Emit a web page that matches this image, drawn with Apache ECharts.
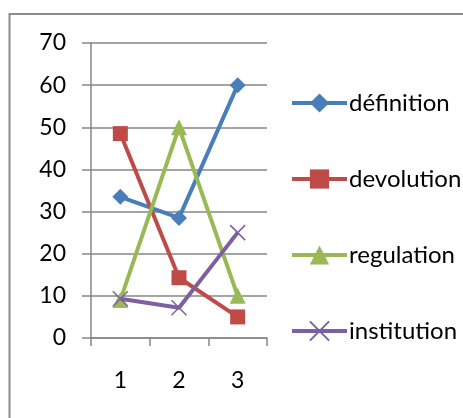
<!DOCTYPE html>
<html><head><meta charset="utf-8">
<script src="https://cdn.jsdelivr.net/npm/echarts@6/dist/echarts.min.js"></script>
<style>html,body{margin:0;padding:0;background:#fff}#c{width:463px;height:418px}</style>
</head><body><div id="c"></div>
<script>
const categories = ['1', '2', '3'];
const seriesNames = ['définition', 'devolution', 'regulation', 'institution'];
const definitionValues = [33.5, 28.5, 60];
const devolutionValues = [48.5, 14.3, 5];
const regulationValues = [9, 50, 10];
const institutionValues = [9.3, 7.2, 25];
const yTicks = { min: 0, max: 70, interval: 10 };

const colors = ['#4A7EBB', '#BE4B48', '#98B954', '#7D60A0'];
const symbols = ['diamond', 'rect', 'triangle', 'path://M0,0 L2,2 M2,0 L0,2'];
const sizes = [16, 15, 16, 15];
const values = [definitionValues, devolutionValues, regulationValues, institutionValues];

const chart = echarts.init(document.getElementById('c'), null, { renderer: 'canvas' });
const font = 'Lato, "Open Sans", sans-serif';
chart.setOption({
  animation: false,
  graphic: [{
    type: 'rect', shape: { x: 9.5, y: 14, width: 480, height: 440 },
    style: { fill: 'none', stroke: '#8c8c8c', lineWidth: 2 }, silent: true, z: 0
  }],
  grid: { left: 91, right: 196, top: 43, bottom: 80 },
  xAxis: {
    type: 'category', data: categories, boundaryGap: true,
    axisLine: { lineStyle: { color: '#868686', width: 1.5 } },
    axisTick: { show: true, length: 8, lineStyle: { color: '#868686', width: 1.5 } },
    axisLabel: { color: '#000', fontSize: 23, fontFamily: font, margin: 31 },
    splitLine: { show: false }
  },
  yAxis: {
    type: 'value', min: yTicks.min, max: yTicks.max, interval: yTicks.interval,
    axisLine: { show: true, lineStyle: { color: '#868686', width: 1.5 } },
    axisTick: { show: true, length: 9, lineStyle: { color: '#868686', width: 1.5 } },
    axisLabel: { color: '#000', fontSize: 23, fontFamily: font, margin: 25 },
    splitLine: { show: true, lineStyle: { color: '#868686', width: 1.5 } }
  },
  legend: {
    orient: 'vertical', left: 290, top: 91, padding: 0,
    itemWidth: 55, itemHeight: 24, itemGap: 52,
    lineStyle: { width: 4 },
    textStyle: { color: '#000', fontSize: 24, fontFamily: font, lineHeight: 24, padding: [0, 0, 0, -3] },
    data: seriesNames
  },
  series: seriesNames.map((n, i) => ({
    name: n, type: 'line', data: values[i],
    symbol: symbols[i], symbolSize: sizes[i],
    showAllSymbol: true,
    lineStyle: { color: colors[i], width: 4 },
    itemStyle: i === 3
      ? { color: colors[i], borderColor: colors[i], borderWidth: 1.5 }
      : { color: colors[i], borderWidth: 0 },
    z: 2 + i
  }))
});
</script></body></html>
